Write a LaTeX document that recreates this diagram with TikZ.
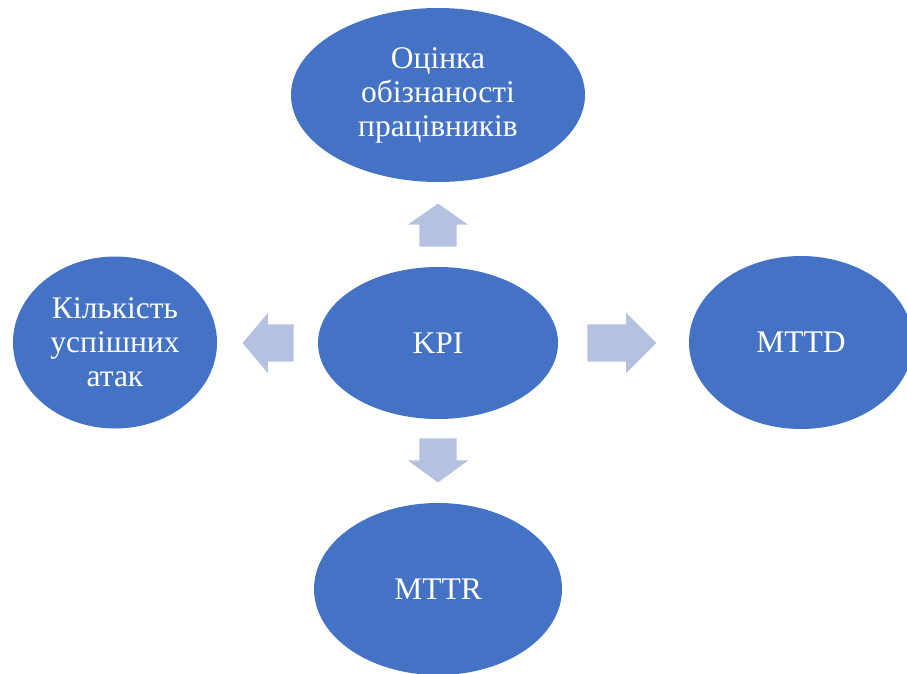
\documentclass[tikz,border=0pt]{standalone}
\usepackage{fontspec}
\setmainfont{Liberation Serif}
\usepackage{tikz}
\usetikzlibrary{shapes.geometric, shapes.arrows, positioning, calc}

\definecolor{kpiblue}{HTML}{4472C4}
\definecolor{arrowblue}{HTML}{B4C1E1}

\begin{document}
\begin{tikzpicture}[
    x=1pt, y=-1pt,
    metric/.style={ellipse, fill=kpiblue, text=white, inner sep=0pt, align=center, font=\fontsize{31.5}{34}\selectfont},
    blockarrow/.style={single arrow, fill=arrowblue, inner xsep=0pt, inner ysep=18.5pt, single arrow head extend=11.5pt, anchor=tail}
]
\useasboundingbox (0,0) rectangle (907,674);

% Central node
\node[metric, minimum width=240pt, minimum height=152pt] (kpi) at (438,343) {KPI};

% Surrounding metrics
\node[metric, minimum width=294pt, minimum height=174pt] (aware) at (438,95) {Оцінка\\обізнаності\\працівників};
\node[metric, minimum width=204pt, minimum height=172pt] (attacks) at (115,342.5) {Кількість\\успішних\\атак};
\node[metric, minimum width=224pt, minimum height=173pt] (mttd) at (801,342.5) {MTTD};
\node[metric, minimum width=248pt, minimum height=172pt] (mttr) at (438,589) {MTTR};

% Block arrows
\node[blockarrow, minimum height=43pt, single arrow tip angle=110, rotate=90] (toaware) at ($(kpi.north)+(0,-20)$) {};
\node[blockarrow, minimum height=51pt, single arrow tip angle=100, rotate=180] (toattacks) at ($(kpi.west)+(-24,0)$) {};
\node[blockarrow, minimum height=69pt, single arrow tip angle=90] (tomttd) at ($(kpi.east)+(29,0)$) {};
\node[blockarrow, minimum height=44pt, single arrow tip angle=108, rotate=270] (tomttr) at ($(kpi.south)+(0,19)$) {};

\end{tikzpicture}
\end{document}
